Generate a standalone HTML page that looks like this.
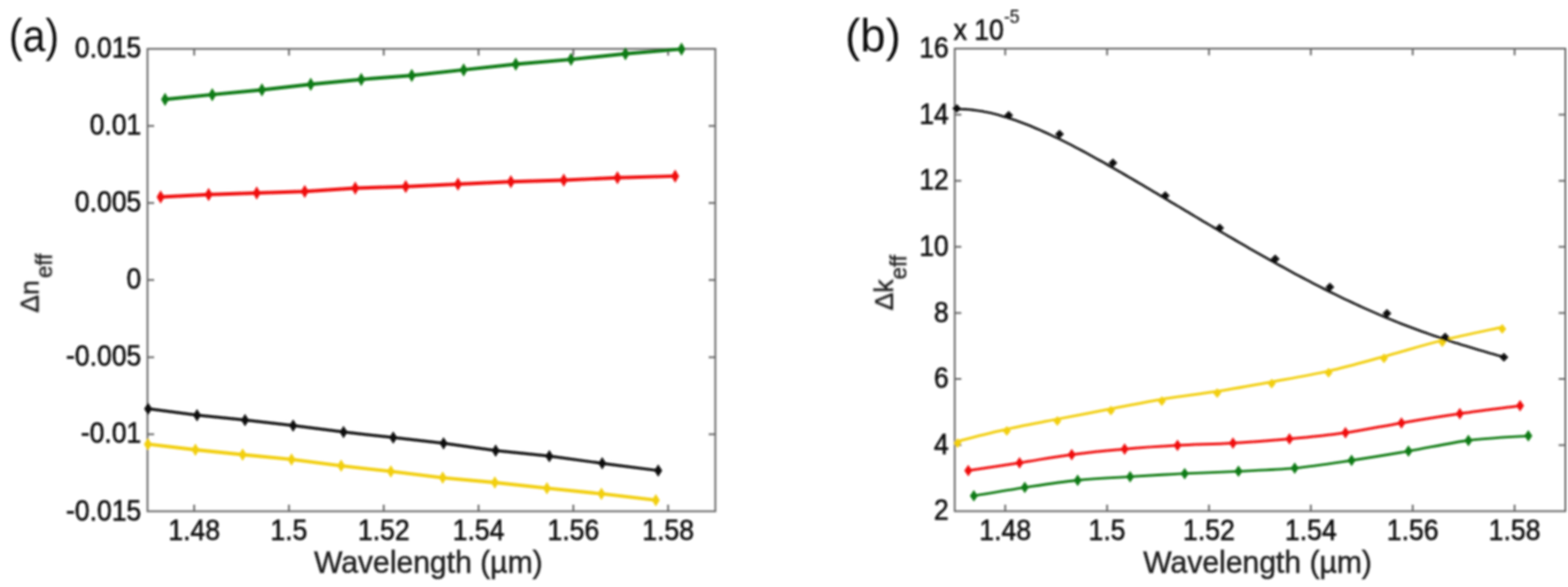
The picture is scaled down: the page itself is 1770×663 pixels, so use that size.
<!DOCTYPE html>
<html><head><meta charset="utf-8"><title>Figure</title>
<style>
html,body{margin:0;padding:0;background:#fff;}
body{width:1770px;height:663px;overflow:hidden;}
svg{display:block;}
text{font-family:"Liberation Sans", Arial, Helvetica, sans-serif;fill:#111;}
.t{font-size:30px;stroke:#111;stroke-width:0.6px;}
.l{font-size:34px;fill:#222;stroke:#222;stroke-width:0.5px;}
.l2{font-size:30px;fill:#222;stroke:#222;stroke-width:0.5px;}
.sub{font-size:25px;}
.sup{font-size:20px;stroke-width:0.2px;}
.p{font-size:52px;fill:#111;}
</style></head>
<body>
<svg width="1770" height="663" viewBox="0 0 1770 663">
<defs><filter id="bl" x="0" y="0" width="1770" height="663" filterUnits="userSpaceOnUse"><feGaussianBlur stdDeviation="0.9"/></filter></defs>
<rect width="1770" height="663" fill="#fff"/>
<g filter="url(#bl)">
<rect x="166.5" y="55.2" width="641.0" height="522.3" fill="none" stroke="#646464" stroke-width="2.0"/><path d="M219.2 577.5v-7.5M219.2 55.2v7.5M326.2 577.5v-7.5M326.2 55.2v7.5M433.2 577.5v-7.5M433.2 55.2v7.5M540.2 577.5v-7.5M540.2 55.2v7.5M647.2 577.5v-7.5M647.2 55.2v7.5M754.2 577.5v-7.5M754.2 55.2v7.5M166.5 142.2h7.5M807.5 142.2h-7.5M166.5 229.3h7.5M807.5 229.3h-7.5M166.5 316.3h7.5M807.5 316.3h-7.5M166.5 403.4h7.5M807.5 403.4h-7.5M166.5 490.4h7.5M807.5 490.4h-7.5" stroke="#646464" stroke-width="2.0" fill="none"/>
<polyline points="186.3,112.3 239.6,106.9 295.7,101.5 350.8,95.2 407.8,89.7 464.8,85.2 523.4,78.9 582.2,72.5 644.6,67.1 706.0,60.8 769.3,55.4" fill="none" stroke="#0d7a12" stroke-width="3.9" stroke-linejoin="round" stroke-linecap="round"/><path d="M186.3 104.8L190.8 112.3L186.3 119.8L181.8 112.3Z" fill="#0d7a12"/><path d="M239.6 99.4L244.1 106.9L239.6 114.4L235.1 106.9Z" fill="#0d7a12"/><path d="M295.7 94.0L300.2 101.5L295.7 109.0L291.2 101.5Z" fill="#0d7a12"/><path d="M350.8 87.7L355.3 95.2L350.8 102.7L346.3 95.2Z" fill="#0d7a12"/><path d="M407.8 82.2L412.3 89.7L407.8 97.2L403.3 89.7Z" fill="#0d7a12"/><path d="M464.8 77.7L469.3 85.2L464.8 92.7L460.3 85.2Z" fill="#0d7a12"/><path d="M523.4 71.4L527.9 78.9L523.4 86.4L518.9 78.9Z" fill="#0d7a12"/><path d="M582.2 65.0L586.7 72.5L582.2 80.0L577.7 72.5Z" fill="#0d7a12"/><path d="M644.6 59.6L649.1 67.1L644.6 74.6L640.1 67.1Z" fill="#0d7a12"/><path d="M706.0 53.3L710.5 60.8L706.0 68.3L701.5 60.8Z" fill="#0d7a12"/><path d="M769.3 47.9L773.8 55.4L769.3 62.9L764.8 55.4Z" fill="#0d7a12"/>
<polyline points="181.3,222.5 235.5,219.8 289.8,218.0 344.0,216.2 401.0,212.5 458.0,210.7 517.0,208.0 576.7,205.3 636.4,203.5 697.0,200.7 762.1,198.9" fill="none" stroke="#f01010" stroke-width="3.9" stroke-linejoin="round" stroke-linecap="round"/><path d="M181.3 215.0L185.8 222.5L181.3 230.0L176.8 222.5Z" fill="#f01010"/><path d="M235.5 212.3L240.0 219.8L235.5 227.3L231.0 219.8Z" fill="#f01010"/><path d="M289.8 210.5L294.3 218.0L289.8 225.5L285.3 218.0Z" fill="#f01010"/><path d="M344.0 208.7L348.5 216.2L344.0 223.7L339.5 216.2Z" fill="#f01010"/><path d="M401.0 205.0L405.5 212.5L401.0 220.0L396.5 212.5Z" fill="#f01010"/><path d="M458.0 203.2L462.5 210.7L458.0 218.2L453.5 210.7Z" fill="#f01010"/><path d="M517.0 200.5L521.5 208.0L517.0 215.5L512.5 208.0Z" fill="#f01010"/><path d="M576.7 197.8L581.2 205.3L576.7 212.8L572.2 205.3Z" fill="#f01010"/><path d="M636.4 196.0L640.9 203.5L636.4 211.0L631.9 203.5Z" fill="#f01010"/><path d="M697.0 193.2L701.5 200.7L697.0 208.2L692.5 200.7Z" fill="#f01010"/><path d="M762.1 191.4L766.6 198.9L762.1 206.4L757.6 198.9Z" fill="#f01010"/>
<polyline points="167.2,461.7 222.4,468.9 276.6,474.4 330.9,480.7 387.8,487.9 443.9,494.2 500.7,500.7 559.5,508.9 620.1,515.2 679.8,523.3 743.0,531.5" fill="none" stroke="#0a0a0a" stroke-width="3.2" stroke-linejoin="round" stroke-linecap="round"/><path d="M167.2 454.7L171.7 461.7L167.2 468.7L162.7 461.7Z" fill="#0a0a0a"/><path d="M222.4 461.9L226.9 468.9L222.4 475.9L217.9 468.9Z" fill="#0a0a0a"/><path d="M276.6 467.4L281.1 474.4L276.6 481.4L272.1 474.4Z" fill="#0a0a0a"/><path d="M330.9 473.7L335.4 480.7L330.9 487.7L326.4 480.7Z" fill="#0a0a0a"/><path d="M387.8 480.9L392.3 487.9L387.8 494.9L383.3 487.9Z" fill="#0a0a0a"/><path d="M443.9 487.2L448.4 494.2L443.9 501.2L439.4 494.2Z" fill="#0a0a0a"/><path d="M500.7 493.7L505.2 500.7L500.7 507.7L496.2 500.7Z" fill="#0a0a0a"/><path d="M559.5 501.9L564.0 508.9L559.5 515.9L555.0 508.9Z" fill="#0a0a0a"/><path d="M620.1 508.2L624.6 515.2L620.1 522.2L615.6 515.2Z" fill="#0a0a0a"/><path d="M679.8 516.3L684.3 523.3L679.8 530.3L675.3 523.3Z" fill="#0a0a0a"/><path d="M743.0 524.5L747.5 531.5L743.0 538.5L738.5 531.5Z" fill="#0a0a0a"/>
<polyline points="167.0,501.7 220.6,508.0 273.9,513.5 329.1,518.9 385.1,526.1 441.2,532.4 499.8,539.6 558.6,545.0 617.4,551.4 678.9,557.7 740.3,564.9" fill="none" stroke="#f2cf0c" stroke-width="3.8" stroke-linejoin="round" stroke-linecap="round"/><path d="M167.0 494.7L171.5 501.7L167.0 508.7L162.5 501.7Z" fill="#f2cf0c"/><path d="M220.6 501.0L225.1 508.0L220.6 515.0L216.1 508.0Z" fill="#f2cf0c"/><path d="M273.9 506.5L278.4 513.5L273.9 520.5L269.4 513.5Z" fill="#f2cf0c"/><path d="M329.1 511.9L333.6 518.9L329.1 525.9L324.6 518.9Z" fill="#f2cf0c"/><path d="M385.1 519.1L389.6 526.1L385.1 533.1L380.6 526.1Z" fill="#f2cf0c"/><path d="M441.2 525.4L445.7 532.4L441.2 539.4L436.7 532.4Z" fill="#f2cf0c"/><path d="M499.8 532.6L504.3 539.6L499.8 546.6L495.3 539.6Z" fill="#f2cf0c"/><path d="M558.6 538.0L563.1 545.0L558.6 552.0L554.1 545.0Z" fill="#f2cf0c"/><path d="M617.4 544.4L621.9 551.4L617.4 558.4L612.9 551.4Z" fill="#f2cf0c"/><path d="M678.9 550.7L683.4 557.7L678.9 564.7L674.4 557.7Z" fill="#f2cf0c"/><path d="M740.3 557.9L744.8 564.9L740.3 571.9L735.8 564.9Z" fill="#f2cf0c"/>
<text transform="translate(219.2 610.3) scale(1 1.1)" text-anchor="middle" class="t">1.48</text>
<text transform="translate(326.2 610.3) scale(1 1.1)" text-anchor="middle" class="t">1.5</text>
<text transform="translate(433.2 610.3) scale(1 1.1)" text-anchor="middle" class="t">1.52</text>
<text transform="translate(540.2 610.3) scale(1 1.1)" text-anchor="middle" class="t">1.54</text>
<text transform="translate(647.2 610.3) scale(1 1.1)" text-anchor="middle" class="t">1.56</text>
<text transform="translate(754.2 610.3) scale(1 1.1)" text-anchor="middle" class="t">1.58</text>
<text transform="translate(159.5 65.2) scale(1 1.1)" text-anchor="end" class="t">0.015</text>
<text transform="translate(159.5 152.2) scale(1 1.1)" text-anchor="end" class="t">0.01</text>
<text transform="translate(159.5 239.3) scale(1 1.1)" text-anchor="end" class="t">0.005</text>
<text transform="translate(159.5 326.3) scale(1 1.1)" text-anchor="end" class="t">0</text>
<text transform="translate(159.5 413.4) scale(1 1.1)" text-anchor="end" class="t">-0.005</text>
<text transform="translate(159.5 500.4) scale(1 1.1)" text-anchor="end" class="t">-0.01</text>
<text transform="translate(159.5 587.5) scale(1 1.1)" text-anchor="end" class="t">-0.015</text>
<text transform="translate(483.5 647.3) scale(1 1.04)" text-anchor="middle" class="l">Wavelength (µm)</text>
<text transform="translate(43.5 353.2) rotate(-90)" class="l2">Δn<tspan class="sub" dx="2.5" dy="14.5">eff</tspan></text>
<text transform="translate(10.0 58.0) scale(0.89 1)" class="p">(a)</text>
<rect x="1077.7" y="54.9" width="689.3" height="522.5" fill="none" stroke="#646464" stroke-width="2.0"/><path d="M1134.7 577.4v-7.5M1134.7 54.9v7.5M1249.7 577.4v-7.5M1249.7 54.9v7.5M1364.7 577.4v-7.5M1364.7 54.9v7.5M1479.7 577.4v-7.5M1479.7 54.9v7.5M1594.7 577.4v-7.5M1594.7 54.9v7.5M1709.7 577.4v-7.5M1709.7 54.9v7.5M1077.7 129.5h7.5M1767.0 129.5h-7.5M1077.7 204.2h7.5M1767.0 204.2h-7.5M1077.7 278.8h7.5M1767.0 278.8h-7.5M1077.7 353.5h7.5M1767.0 353.5h-7.5M1077.7 428.1h7.5M1767.0 428.1h-7.5M1077.7 502.8h7.5M1767.0 502.8h-7.5" stroke="#646464" stroke-width="2.0" fill="none"/>
<path d="M1080.9 498.4C1090.2 496.1 1117.7 489.0 1136.5 484.8C1155.3 480.6 1173.9 477.2 1193.5 473.4C1213.1 469.6 1234.3 465.6 1254.0 461.8C1273.7 458.1 1291.5 454.2 1311.5 450.9C1331.5 447.6 1353.3 445.3 1374.0 442.0C1394.7 438.7 1414.5 435.1 1435.5 431.3C1456.5 427.5 1478.6 423.9 1499.7 419.1C1520.8 414.4 1540.8 408.6 1562.2 402.8C1583.6 397.0 1605.8 389.9 1628.1 384.4C1650.4 378.8 1684.5 372.0 1695.8 369.5" fill="none" stroke="#f2cf0c" stroke-width="3.0" stroke-linejoin="round" stroke-linecap="round"/><path d="M1080.9 494.9L1085.4 500.4L1080.9 505.9L1076.4 500.4Z" fill="#f2cf0c"/><path d="M1136.5 481.3L1141.0 486.8L1136.5 492.3L1132.0 486.8Z" fill="#f2cf0c"/><path d="M1193.5 469.9L1198.0 475.4L1193.5 480.9L1189.0 475.4Z" fill="#f2cf0c"/><path d="M1254.0 458.3L1258.5 463.8L1254.0 469.3L1249.5 463.8Z" fill="#f2cf0c"/><path d="M1311.5 447.4L1316.0 452.9L1311.5 458.4L1307.0 452.9Z" fill="#f2cf0c"/><path d="M1374.0 438.5L1378.5 444.0L1374.0 449.5L1369.5 444.0Z" fill="#f2cf0c"/><path d="M1435.5 427.8L1440.0 433.3L1435.5 438.8L1431.0 433.3Z" fill="#f2cf0c"/><path d="M1499.7 415.6L1504.2 421.1L1499.7 426.6L1495.2 421.1Z" fill="#f2cf0c"/><path d="M1562.2 399.3L1566.7 404.8L1562.2 410.3L1557.7 404.8Z" fill="#f2cf0c"/><path d="M1628.1 380.9L1632.6 386.4L1628.1 391.9L1623.6 386.4Z" fill="#f2cf0c"/><path d="M1695.8 366.0L1700.3 371.5L1695.8 377.0L1691.3 371.5Z" fill="#f2cf0c"/>
<path d="M1093.0 531.6C1102.7 530.1 1131.4 525.7 1150.9 522.7C1170.4 519.7 1190.0 516.0 1209.8 513.4C1229.6 510.8 1249.6 508.9 1269.5 507.2C1289.4 505.5 1308.8 504.2 1329.2 503.1C1349.6 502.0 1370.7 501.6 1391.8 500.4C1412.9 499.2 1434.4 497.6 1455.6 495.7C1476.8 493.8 1497.7 491.8 1518.8 488.8C1539.9 485.8 1560.5 481.3 1582.0 477.7C1603.5 474.1 1625.6 470.5 1647.9 467.3C1670.2 464.1 1704.6 459.8 1715.9 458.3" fill="none" stroke="#f01010" stroke-width="3.0" stroke-linejoin="round" stroke-linecap="round"/><path d="M1093.0 525.1L1097.5 531.6L1093.0 538.1L1088.5 531.6Z" fill="#f01010"/><path d="M1150.9 516.2L1155.4 522.7L1150.9 529.2L1146.4 522.7Z" fill="#f01010"/><path d="M1209.8 506.9L1214.3 513.4L1209.8 519.9L1205.3 513.4Z" fill="#f01010"/><path d="M1269.5 500.7L1274.0 507.2L1269.5 513.7L1265.0 507.2Z" fill="#f01010"/><path d="M1329.2 496.6L1333.7 503.1L1329.2 509.6L1324.7 503.1Z" fill="#f01010"/><path d="M1391.8 493.9L1396.3 500.4L1391.8 506.9L1387.3 500.4Z" fill="#f01010"/><path d="M1455.6 489.2L1460.1 495.7L1455.6 502.2L1451.1 495.7Z" fill="#f01010"/><path d="M1518.8 482.3L1523.3 488.8L1518.8 495.3L1514.3 488.8Z" fill="#f01010"/><path d="M1582.0 471.2L1586.5 477.7L1582.0 484.2L1577.5 477.7Z" fill="#f01010"/><path d="M1647.9 460.8L1652.4 467.3L1647.9 473.8L1643.4 467.3Z" fill="#f01010"/><path d="M1715.9 451.8L1720.4 458.3L1715.9 464.8L1711.4 458.3Z" fill="#f01010"/>
<path d="M1099.3 560.1C1108.9 558.5 1137.3 553.5 1156.8 550.6C1176.3 547.7 1196.7 544.5 1216.5 542.5C1236.3 540.5 1255.6 539.7 1275.7 538.4C1295.8 537.1 1316.9 535.9 1337.3 534.9C1357.7 533.9 1377.3 533.3 1398.0 532.3C1418.7 531.3 1440.2 530.8 1461.5 528.7C1482.8 526.7 1504.3 523.2 1525.7 520.0C1547.1 516.8 1567.9 513.4 1589.9 509.6C1611.9 505.9 1635.0 500.4 1657.6 497.5C1680.1 494.6 1713.9 493.2 1725.2 492.3" fill="none" stroke="#0d7a12" stroke-width="2.8" stroke-linejoin="round" stroke-linecap="round"/><path d="M1099.3 553.6L1103.8 560.1L1099.3 566.6L1094.8 560.1Z" fill="#0d7a12"/><path d="M1156.8 544.1L1161.3 550.6L1156.8 557.1L1152.3 550.6Z" fill="#0d7a12"/><path d="M1216.5 536.0L1221.0 542.5L1216.5 549.0L1212.0 542.5Z" fill="#0d7a12"/><path d="M1275.7 531.9L1280.2 538.4L1275.7 544.9L1271.2 538.4Z" fill="#0d7a12"/><path d="M1337.3 528.4L1341.8 534.9L1337.3 541.4L1332.8 534.9Z" fill="#0d7a12"/><path d="M1398.0 525.8L1402.5 532.3L1398.0 538.8L1393.5 532.3Z" fill="#0d7a12"/><path d="M1461.5 522.2L1466.0 528.7L1461.5 535.2L1457.0 528.7Z" fill="#0d7a12"/><path d="M1525.7 513.5L1530.2 520.0L1525.7 526.5L1521.2 520.0Z" fill="#0d7a12"/><path d="M1589.9 503.1L1594.4 509.6L1589.9 516.1L1585.4 509.6Z" fill="#0d7a12"/><path d="M1657.6 491.0L1662.1 497.5L1657.6 504.0L1653.1 497.5Z" fill="#0d7a12"/><path d="M1725.2 485.8L1729.7 492.3L1725.2 498.8L1720.7 492.3Z" fill="#0d7a12"/>
<polyline points="1078.0,123.2 1082.0,123.2 1086.0,123.3 1090.0,123.4 1094.0,123.7 1098.0,124.1 1102.0,124.7 1106.0,125.3 1110.0,125.9 1114.0,126.7 1118.0,127.6 1122.0,128.6 1126.0,129.6 1130.0,130.7 1134.0,131.9 1138.0,133.1 1142.0,134.4 1146.0,135.8 1150.0,137.2 1154.0,138.7 1158.0,140.3 1162.0,141.8 1166.0,143.5 1170.0,145.2 1174.0,146.9 1178.0,148.7 1182.0,150.5 1186.0,152.4 1190.0,154.3 1194.0,156.2 1198.0,158.2 1202.0,160.2 1206.0,162.2 1210.0,164.2 1214.0,166.3 1218.0,168.4 1222.0,170.5 1226.0,172.7 1230.0,174.9 1234.0,177.1 1238.0,179.3 1242.0,181.5 1246.0,183.7 1250.0,186.0 1254.0,188.3 1258.0,190.6 1262.0,192.9 1266.0,195.2 1270.0,197.5 1274.0,199.8 1278.0,202.2 1282.0,204.5 1286.0,206.9 1290.0,209.2 1294.0,211.6 1298.0,213.9 1302.0,216.3 1306.0,218.7 1310.0,221.1 1314.0,223.5 1318.0,225.9 1322.0,228.3 1326.0,230.6 1330.0,233.0 1334.0,235.4 1338.0,237.8 1342.0,240.2 1346.0,242.6 1350.0,245.0 1354.0,247.4 1358.0,249.8 1362.0,252.1 1366.0,254.5 1370.0,256.9 1374.0,259.2 1378.0,261.6 1382.0,264.0 1386.0,266.3 1390.0,268.7 1394.0,271.0 1398.0,273.3 1402.0,275.6 1406.0,277.9 1410.0,280.3 1414.0,282.6 1418.0,284.8 1422.0,287.1 1426.0,289.4 1430.0,291.6 1434.0,293.9 1438.0,296.1 1442.0,298.3 1446.0,300.5 1450.0,302.7 1454.0,304.9 1458.0,307.1 1462.0,309.3 1466.0,311.4 1470.0,313.5 1474.0,315.6 1478.0,317.7 1482.0,319.8 1486.0,321.9 1490.0,323.9 1494.0,326.0 1498.0,328.0 1502.0,330.0 1506.0,331.9 1510.0,333.9 1514.0,335.8 1518.0,337.8 1522.0,339.7 1526.0,341.5 1530.0,343.4 1534.0,345.2 1538.0,347.1 1542.0,348.9 1546.0,350.6 1550.0,352.4 1554.0,354.1 1558.0,355.9 1562.0,357.5 1566.0,359.2 1570.0,360.9 1574.0,362.5 1578.0,364.1 1582.0,365.7 1586.0,367.2 1590.0,368.8 1594.0,370.3 1598.0,371.8 1602.0,373.3 1606.0,374.7 1610.0,376.1 1614.0,377.6 1618.0,378.9 1622.0,380.3 1626.0,381.7 1630.0,383.0 1634.0,384.3 1638.0,385.6 1642.0,386.9 1646.0,388.1 1650.0,389.4 1654.0,390.6 1658.0,391.8 1662.0,393.0 1666.0,394.2 1670.0,395.4 1674.0,396.6 1678.0,397.7 1682.0,398.9 1686.0,400.0 1690.0,401.2 1694.0,402.3 1697.6,403.4" fill="none" stroke="#0a0a0a" stroke-width="2.6" stroke-linejoin="round" stroke-linecap="round"/><path d="M1080.0 117.6L1085.0 122.6L1080.0 127.6L1075.0 122.6Z" fill="#0a0a0a"/><path d="M1138.7 125.2L1143.7 130.2L1138.7 135.2L1133.7 130.2Z" fill="#0a0a0a"/><path d="M1196.0 146.5L1201.0 151.5L1196.0 156.5L1191.0 151.5Z" fill="#0a0a0a"/><path d="M1256.3 179.0L1261.3 184.0L1256.3 189.0L1251.3 184.0Z" fill="#0a0a0a"/><path d="M1315.4 216.1L1320.4 221.1L1315.4 226.1L1310.4 221.1Z" fill="#0a0a0a"/><path d="M1376.8 252.6L1381.8 257.6L1376.8 262.6L1371.8 257.6Z" fill="#0a0a0a"/><path d="M1439.5 287.6L1444.5 292.6L1439.5 297.6L1434.5 292.6Z" fill="#0a0a0a"/><path d="M1501.2 319.3L1506.2 324.3L1501.2 329.3L1496.2 324.3Z" fill="#0a0a0a"/><path d="M1565.6 349.0L1570.6 354.0L1565.6 359.0L1560.6 354.0Z" fill="#0a0a0a"/><path d="M1631.3 375.7L1636.3 380.7L1631.3 385.7L1626.3 380.7Z" fill="#0a0a0a"/><path d="M1697.6 398.6L1702.6 403.6L1697.6 408.6L1692.6 403.6Z" fill="#0a0a0a"/>
<text transform="translate(1134.7 610.3) scale(1 1.1)" text-anchor="middle" class="t">1.48</text>
<text transform="translate(1249.7 610.3) scale(1 1.1)" text-anchor="middle" class="t">1.5</text>
<text transform="translate(1364.7 610.3) scale(1 1.1)" text-anchor="middle" class="t">1.52</text>
<text transform="translate(1479.7 610.3) scale(1 1.1)" text-anchor="middle" class="t">1.54</text>
<text transform="translate(1594.7 610.3) scale(1 1.1)" text-anchor="middle" class="t">1.56</text>
<text transform="translate(1709.7 610.3) scale(1 1.1)" text-anchor="middle" class="t">1.58</text>
<text transform="translate(1071.0 64.9) scale(1 1.1)" text-anchor="end" class="t">16</text>
<text transform="translate(1071.0 139.5) scale(1 1.1)" text-anchor="end" class="t">14</text>
<text transform="translate(1071.0 214.2) scale(1 1.1)" text-anchor="end" class="t">12</text>
<text transform="translate(1071.0 288.8) scale(1 1.1)" text-anchor="end" class="t">10</text>
<text transform="translate(1071.0 363.5) scale(1 1.1)" text-anchor="end" class="t">8</text>
<text transform="translate(1071.0 438.1) scale(1 1.1)" text-anchor="end" class="t">6</text>
<text transform="translate(1071.0 512.8) scale(1 1.1)" text-anchor="end" class="t">4</text>
<text transform="translate(1071.0 587.4) scale(1 1.1)" text-anchor="end" class="t">2</text>
<text transform="translate(1419.6 647.3) scale(1 1.04)" text-anchor="middle" class="l">Wavelength (µm)</text>
<text transform="translate(1008 350.6) rotate(-90)" class="l2">Δk<tspan class="sub" dy="14.5">eff</tspan></text>
<text transform="translate(1076.5 45.2) scale(1 1.08)" class="t">x 10<tspan class="sup" dy="-17.9">-5</tspan></text>
<text transform="translate(953.9 58.0) scale(0.99 1)" class="p">(b)</text>
</g>
</svg>
</body></html>
